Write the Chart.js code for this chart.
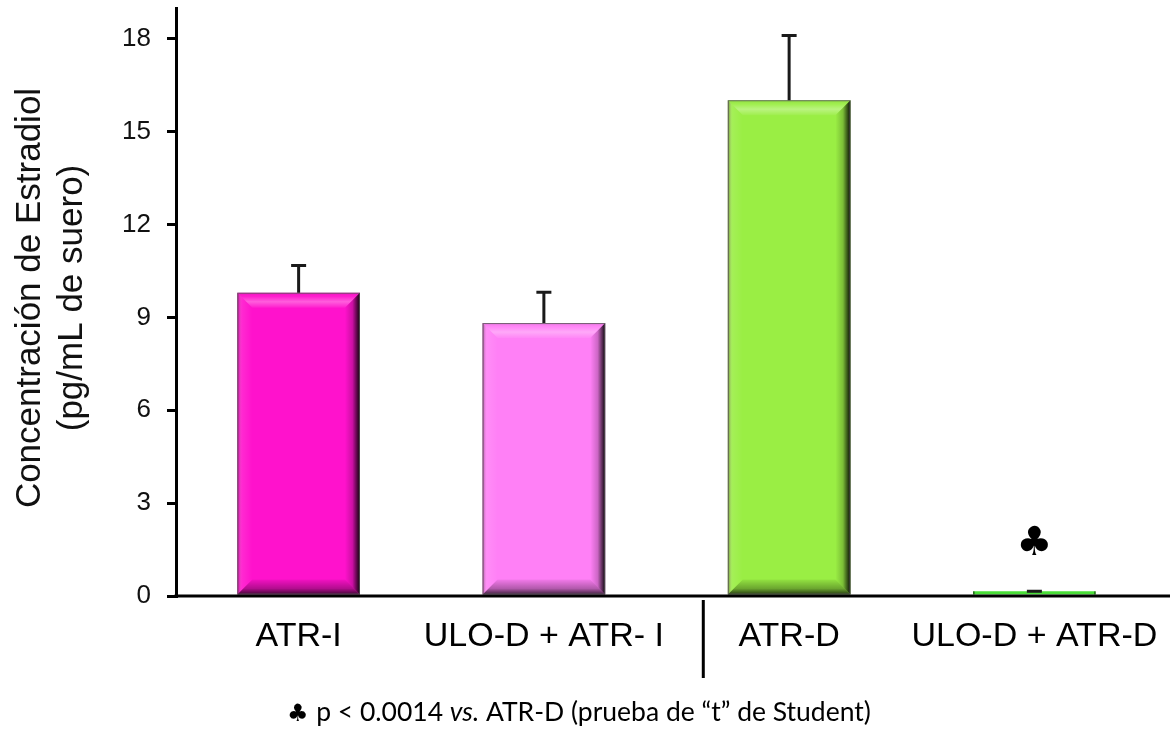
<!DOCTYPE html>
<html>
<head>
<meta charset="utf-8">
<script src="https://cdn.jsdelivr.net/npm/chart.js@4.4.1/dist/chart.umd.min.js"></script>
<style>
  html, body { margin: 0; padding: 0; background: #fff; }
  #wrap { width: 1174px; height: 745px; }
</style>
</head>
<body>
<div id="wrap"><canvas id="c" width="1174" height="745"></canvas></div>
<script>
// Serum estradiol by group (mean and upper SEM)
const categories = ['ATR-I', 'ULO-D + ATR- I', 'ATR-D', 'ULO-D + ATR-D'];
const means = [9.8, 8.82, 16.02, 0.15];
const errors = [0.93, 1.04, 2.14, 0.05];
const barColors = ['#FF12CC', '#FF80F6', '#9AEE44', '#4ADF38'];
const yTicks = [0, 3, 6, 9, 12, 15, 18];
const markerGroup = 3;      // group flagged as significant
const markerValue = 1.65;   // height of the club marker
const yTitle = ['Concentración de Estradiol', '(pg/mL de suero)'];

const FONT = '"Liberation Sans", Arial, sans-serif';

function shade(ctx, pts, grad) {
  ctx.beginPath();
  ctx.moveTo(pts[0][0], pts[0][1]);
  for (let i = 1; i < pts.length; i++) ctx.lineTo(pts[i][0], pts[i][1]);
  ctx.closePath();
  ctx.fillStyle = grad;
  ctx.fill();
}

// Bevelled look for each bar, plus error bars, marker and divider
const decor = {
  id: 'decor',
  afterDatasetsDraw(chart) {
    const ctx = chart.ctx;
    const meta = chart.getDatasetMeta(0);
    const ys = chart.scales.y;
    const xs = chart.scales.x;
    meta.data.forEach((bar, i) => {
      const p = bar.getProps(['x', 'y', 'base', 'width'], true);
      const l = p.x - p.width / 2, r = p.x + p.width / 2;
      const t = p.y, b = p.base;
      const h = b - t;
      ctx.save();
      if (h > 30) {
        const d = 15;
        // top bevel: highlight
        let g = ctx.createLinearGradient(0, t, 0, t + d);
        g.addColorStop(0, 'rgba(0,0,0,0.10)');
        g.addColorStop(0.25, 'rgba(255,255,255,0.05)');
        g.addColorStop(0.6, 'rgba(255,255,255,0.32)');
        g.addColorStop(1, 'rgba(255,255,255,0.05)');
        shade(ctx, [[l, t], [r, t], [r - d, t + d], [l + d, t + d]], g);
        // left bevel
        g = ctx.createLinearGradient(l, 0, l + d, 0);
        g.addColorStop(0, 'rgba(60,0,40,0.45)');
        g.addColorStop(0.3, 'rgba(255,255,255,0.10)');
        g.addColorStop(1, 'rgba(255,255,255,0.0)');
        shade(ctx, [[l, t], [l + d, t + d], [l + d, b - d], [l, b]], g);
        // right bevel: dark edge
        g = ctx.createLinearGradient(r - d, 0, r, 0);
        g.addColorStop(0, 'rgba(0,0,0,0.0)');
        g.addColorStop(0.5, 'rgba(0,0,0,0.2)');
        g.addColorStop(1, 'rgba(0,0,0,0.95)');
        shade(ctx, [[r, t], [r, b], [r - d, b - d], [r - d, t + d]], g);
        // bottom bevel
        g = ctx.createLinearGradient(0, b - d, 0, b);
        g.addColorStop(0, 'rgba(0,0,0,0.05)');
        g.addColorStop(0.6, 'rgba(0,0,0,0.30)');
        g.addColorStop(1, 'rgba(0,0,0,0.75)');
        shade(ctx, [[l, b], [l + d, b - d], [r - d, b - d], [r, b]], g);
        // outline
        ctx.strokeStyle = 'rgba(90,90,90,0.8)';
        ctx.lineWidth = 1;
        ctx.strokeRect(l + 0.5, t + 0.5, p.width - 1, h - 1);
      } else {
        // very short bar: only darken the two ends
        ctx.fillStyle = 'rgba(0,0,0,0.55)';
        ctx.fillRect(l, t, 1.5, h);
        ctx.fillRect(r - 1.5, t, 1.5, h);
      }

      // error bar (upper)
      const yTop = ys.getPixelForValue(means[i] + errors[i]);
      ctx.strokeStyle = '#1a1a1a';
      ctx.lineWidth = 3;
      ctx.lineCap = 'butt';
      ctx.beginPath();
      ctx.moveTo(p.x, t);
      ctx.lineTo(p.x, yTop);
      ctx.moveTo(p.x - 7.5, yTop + 1.5);
      ctx.lineTo(p.x + 7.5, yTop + 1.5);
      ctx.stroke();
      ctx.restore();
    });

    // significance marker
    const mx = xs.getPixelForValue(markerGroup);
    const my = ys.getPixelForValue(markerValue);
    ctx.save();
    ctx.fillStyle = '#000';
    ctx.font = '40px "DejaVu Sans", sans-serif';
    ctx.textAlign = 'center';
    ctx.textBaseline = 'middle';
    ctx.fillText('\u2663', mx, my);
    ctx.restore();
  },
  afterDraw(chart) {
    const ctx = chart.ctx;
    const area = chart.chartArea;
    const xs = chart.scales.x;
    ctx.save();
    // x baseline, running past the last group
    ctx.strokeStyle = '#000';
    ctx.lineWidth = 3;
    ctx.beginPath();
    ctx.moveTo(area.left - 1.5, area.bottom);
    ctx.lineTo(area.right + 13, area.bottom);
    ctx.stroke();
    // divider between left and right side groups
    const x1 = xs.getPixelForValue(1), x2 = xs.getPixelForValue(2);
    const dx = x1 + 0.65 * (x2 - x1);
    ctx.beginPath();
    ctx.moveTo(dx, area.bottom + 4);
    ctx.lineTo(dx, area.bottom + 82);
    ctx.stroke();

    // y axis title, two lines rotated
    ctx.fillStyle = '#111';
    ctx.font = '35px ' + FONT;
    ctx.textAlign = 'center';
    ctx.textBaseline = 'middle';
    const cy = (area.top + area.bottom) / 2 - 4;
    [[30, yTitle[0]], [72, yTitle[1]]].forEach(([x, s]) => {
      ctx.save();
      ctx.translate(x, cy);
      ctx.rotate(-Math.PI / 2);
      ctx.fillText(s, 0, 0);
      ctx.restore();
    });

    // footnote
    const parts = [
      ['\u2663 ', '24px "DejaVu Sans", sans-serif'],
      ['p < 0.0014 ', '26.5px Lato, "Open Sans", sans-serif'],
      ['vs.', 'italic 26.5px Lato, "Open Sans", sans-serif'],
      [' ATR-D (prueba de \u201ct\u201d de Student)', '26.5px Lato, "Open Sans", sans-serif']
    ];
    ctx.textAlign = 'left';
    ctx.textBaseline = 'alphabetic';
    ctx.fillStyle = '#000';
    let fx = 287;
    parts.forEach(([s, f]) => {
      ctx.font = f;
      ctx.fillText(s, fx, 721);
      fx += ctx.measureText(s).width;
    });
    ctx.restore();
  }
};

new Chart(document.getElementById('c'), {
  type: 'bar',
  data: {
    labels: categories,
    datasets: [{
      data: means,
      backgroundColor: barColors,
      borderWidth: 0,
      categoryPercentage: 1.0,
      barPercentage: 0.5
    }]
  },
  options: {
    responsive: false,
    animation: false,
    devicePixelRatio: 1,
    layout: { padding: { left: 0, right: 17, top: 8, bottom: 0 } },
    plugins: { legend: { display: false }, tooltip: { enabled: false } },
    scales: {
      x: {
        grid: { display: false, drawTicks: false },
        border: { display: false },
        ticks: {
          color: '#000',
          font: { family: FONT, size: 34 },
          padding: 20,
          maxRotation: 0,
          autoSkip: false
        },
        afterFit(scale) {
          scale.height = 149;
          scale.paddingLeft = 0;
          scale.paddingRight = 0;
        }
      },
      y: {
        min: 0,
        max: 19,
        afterBuildTicks(scale) { scale.ticks = yTicks.map(v => ({ value: v })); },
        grid: {
          display: true,
          drawOnChartArea: false,
          drawTicks: true,
          tickLength: 9,
          lineWidth: 3,
          color: '#000'
        },
        border: { display: true, color: '#000', width: 3 },
        ticks: {
          color: '#111',
          font: { family: FONT, size: 26 },
          padding: 16
        },
        afterFit(scale) {
          scale.width = 176;
          scale.paddingTop = 0;
          scale.paddingBottom = 0;
        }
      }
    }
  },
  plugins: [decor]
});
</script>
</body>
</html>
